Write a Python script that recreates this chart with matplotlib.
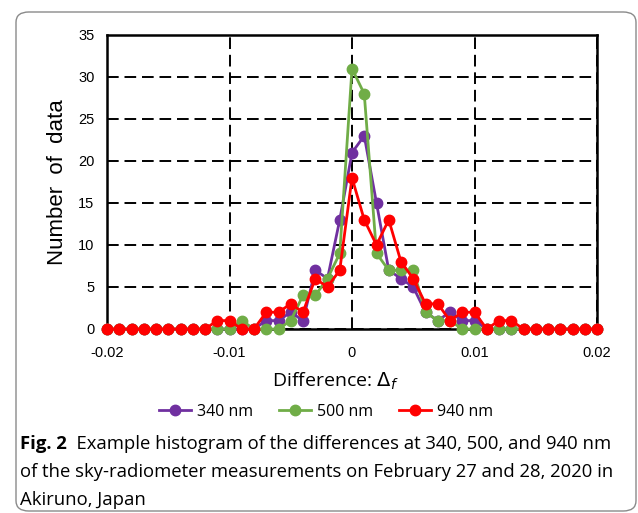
import matplotlib
matplotlib.use("Agg")
import matplotlib.pyplot as plt
from matplotlib.patches import FancyBboxPatch
import numpy as np

# differences (bin centres), step 0.001 from -0.02 to 0.02
diff = np.round(np.arange(-20, 21) * 0.001, 3)

counts_340 = [0, 0, 0, 0, 0, 0, 0, 0, 0, 0, 0, 0, 0, 1, 1, 2, 1, 7, 6, 13,
              21, 23, 15, 7, 6, 5, 2, 1, 2, 1, 1, 0, 0, 0, 0, 0, 0, 0, 0, 0, 0]
counts_500 = [0, 0, 0, 0, 0, 0, 0, 0, 0, 0, 0, 1, 0, 0, 0, 1, 4, 4, 6, 9,
              31, 28, 9, 7, 7, 7, 2, 1, 1, 0, 0, 0, 0, 0, 0, 0, 0, 0, 0, 0, 0]
counts_940 = [0, 0, 0, 0, 0, 0, 0, 0, 0, 1, 1, 0, 0, 2, 2, 3, 2, 6, 5, 7,
              18, 13, 10, 13, 8, 6, 3, 3, 1, 2, 2, 0, 1, 1, 0, 0, 0, 0, 0, 0, 0]

series = [("340 nm", counts_340, "#7030A0"),
          ("500 nm", counts_500, "#70AD47"),
          ("940 nm", counts_940, "#FF0000")]

x_ticks = [-0.02, -0.01, 0, 0.01, 0.02]
x_tick_labels = ["-0.02", "-0.01", "0", "0.01", "0.02"]
y_ticks = [0, 5, 10, 15, 20, 25, 30, 35]

caption_bold = "Fig. 2"
caption_lines = ["Example histogram of the differences at 340, 500, and 940 nm",
                 "of the sky-radiometer measurements on February 27 and 28, 2020 in",
                 "Akiruno, Japan"]

W, H = 638, 513
CAP_FONT = "Open Sans"
CAP_SIZE = 13.3

fig = plt.figure(figsize=(W / 100, H / 100), dpi=100)

# rounded frame around figure + caption
frame = FancyBboxPatch((16 / W, 1 - 511 / H), 620 / W, 499 / H,
                       boxstyle="round,pad=0,rounding_size=0.02",
                       transform=fig.transFigure, fill=False,
                       edgecolor="#8a8a8a", linewidth=1.0)
fig.patches.append(frame)

ax = fig.add_axes([107 / W, 1 - 329 / H, 490 / W, 294 / H])

handles = []
for label, vals, color in series:
    h, = ax.plot(diff, vals, color=color, marker="o", markersize=7.5,
                 linewidth=2.0, label=label, clip_on=False, zorder=3)
    handles.append(h)

ax.set_xlim(-0.02, 0.02)
ax.set_ylim(0, 35)
ax.set_xticks(x_ticks)
ax.set_xticklabels(x_tick_labels)
ax.set_yticks(y_ticks)
ax.tick_params(length=0, labelsize=10.5)
ax.tick_params(axis="y", pad=9)
ax.tick_params(axis="x", pad=12.5)
for lab in ax.get_xticklabels() + ax.get_yticklabels():
    lab.set_fontfamily("Liberation Sans")

ax.grid(True, color="black", linestyle=(0, (6, 3)), linewidth=1.4)
ax.set_axisbelow(True)
for sp in ax.spines.values():
    sp.set_linewidth(1.8)
    sp.set_color("black")

ax.set_ylabel("Number  of  data", fontsize=16, family="Liberation Sans", labelpad=7)

fig.text(272 / W, 1 - 381 / H, r"Difference: $\Delta_f$", fontsize=14,
         family=CAP_FONT, ha="left", va="center")

fig.legend(handles=handles, loc="center", bbox_to_anchor=(326 / W, 1 - 412 / H),
           ncol=3, frameon=False, handlelength=2.0, handletextpad=0.4,
           columnspacing=1.6, prop={"family": CAP_FONT, "size": 11.5})

# caption: bold "Fig. 2" followed by the regular text on the same line
t = fig.text(20 / W, 1 - 444 / H, caption_bold, fontsize=CAP_SIZE, family=CAP_FONT,
             weight="bold", ha="left", va="center")
ax.annotate("  " + caption_lines[0], xy=(1, 0), xycoords=t, va="bottom",
            ha="left", fontsize=CAP_SIZE, family=CAP_FONT, annotation_clip=False)
fig.text(20 / W, 1 - 472 / H, caption_lines[1], fontsize=CAP_SIZE, family=CAP_FONT,
         ha="left", va="center")
fig.text(20 / W, 1 - 500 / H, caption_lines[2], fontsize=CAP_SIZE, family=CAP_FONT,
         ha="left", va="center")

fig.savefig("out.png", dpi=100)
